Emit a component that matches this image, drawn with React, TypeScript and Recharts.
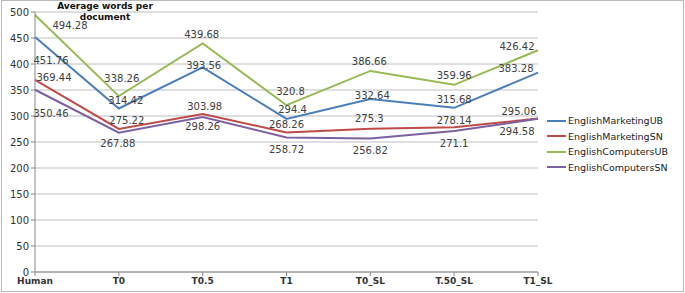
import React from "react";
import {
  LineChart,
  Line,
  CartesianGrid,
  XAxis,
  YAxis,
  LabelList,
} from "recharts";

const categories = ["Human", "T0", "T0.5", "T1", "T0_SL", "T.50_SL", "T1_SL"];
const marketingUB = [451.76, 314.42, 393.56, 294.4, 332.64, 315.68, 383.28];
const marketingSN = [369.44, 275.22, 303.98, 268.26, 275.3, 278.14, 295.06];
const computersUB = [494.28, 338.26, 439.68, 320.8, 386.66, 359.96, 426.42];
const computersSN = [350.46, 267.88, 298.26, 258.72, 256.82, 271.1, 294.58];
const yTicks = [0, 50, 100, 150, 200, 250, 300, 350, 400, 450, 500];

const chartData = categories.map((name, i) => ({
  name,
  EnglishMarketingUB: marketingUB[i],
  EnglishMarketingSN: marketingSN[i],
  EnglishComputersUB: computersUB[i],
  EnglishComputersSN: computersSN[i],
}));

// label offsets (dx, dy) per point, same as where the excel labels sit
const offsets: Record<string, [number, number][]> = {
  EnglishMarketingUB: [[16, 23], [7, -8], [1, -2], [6, -9], [2, -4], [0, -8], [-22, -4]],
  EnglishMarketingSN: [[19, -2], [8, -8], [2, -7], [0, -8], [-1, -10], [0, -7], [-19, -7]],
  EnglishComputersUB: [[35, 11], [3, -18], [-1, -9], [4, -14], [-1, -9], [0, -9], [-21, -4]],
  EnglishComputersSN: [[16, 24], [-1, 11], [0, 10], [0, 12], [0, 12], [0, 12], [-21, 13]],
};

const makeLabel = (key: string) => (props: any) => {
  const { x, y, value, index } = props;
  const [dx, dy] = offsets[key][index];
  return (
    <text
      x={x + dx}
      y={y + dy}
      textAnchor="middle"
      dominantBaseline="central"
      fontSize={10}
      fontFamily="DejaVu Sans"
      fill="#404040"
    >
      {value}
    </text>
  );
};

const series = [
  { key: "EnglishMarketingUB", color: "#4a7ebb" },
  { key: "EnglishMarketingSN", color: "#be4b48" },
  { key: "EnglishComputersUB", color: "#98b954" },
  { key: "EnglishComputersSN", color: "#7d60a0" },
];

const LegendBox = () => (
  <div
    style={{
      position: "absolute",
      top: 113,
      left: 547,
      width: 135,
      fontFamily: "DejaVu Sans",
      fontSize: 9.5,
      color: "#222",
    }}
  >
    {series.map((s) => (
      <div key={s.key} style={{ display: "flex", alignItems: "center", height: 15.5 }}>
        <span
          style={{ display: "inline-block", width: 19, height: 2, background: s.color, marginRight: 2 }}
        />
        {s.key}
      </div>
    ))}
  </div>
);

export default function App() {
  return (
    <div style={{ position: "absolute", left: 0, top: 0, width: 685, height: 293 }}>
      <div
        style={{
          position: "absolute",
          left: 1,
          top: 0,
          width: 681,
          height: 290,
          border: "1px solid #b8b8b8",
        }}
      />
      <LineChart
        width={685}
        height={293}
        data={chartData}
        margin={{ top: 12, right: 147, left: 5, bottom: 0 }}
        style={{ position: "absolute", left: 0, top: 0 }}
      >
        <CartesianGrid vertical={false} stroke="#bfbfbf" strokeWidth={1} />
        <XAxis
          dataKey="name"
          height={21}
          stroke="#888"
          tickSize={4}
          tick={{ fontSize: 9, fontWeight: "bold", fill: "#333", fontFamily: "DejaVu Sans" }}
          interval={0}
        />
        <YAxis
          width={30}
          domain={[0, 500]}
          ticks={yTicks}
          stroke="#888"
          tickSize={4}
          tick={{ fontSize: 10, fill: "#333", fontFamily: "DejaVu Sans" }}
        />
        {series.map((s) => (
          <Line
            key={s.key}
            dataKey={s.key}
            stroke={s.color}
            strokeWidth={2}
            dot={false}
            type="linear"
            isAnimationActive={false}
          >
            <LabelList dataKey={s.key} content={makeLabel(s.key)} />
          </Line>
        ))}
      </LineChart>
      <div
        style={{
          position: "absolute",
          left: 54,
          top: 1,
          width: 102,
          textAlign: "center",
          fontFamily: "DejaVu Sans",
          fontWeight: "bold",
          fontSize: 9,
          lineHeight: "11px",
          color: "#111",
        }}
      >
        Average words per document
      </div>
      <LegendBox />
    </div>
  );
}
